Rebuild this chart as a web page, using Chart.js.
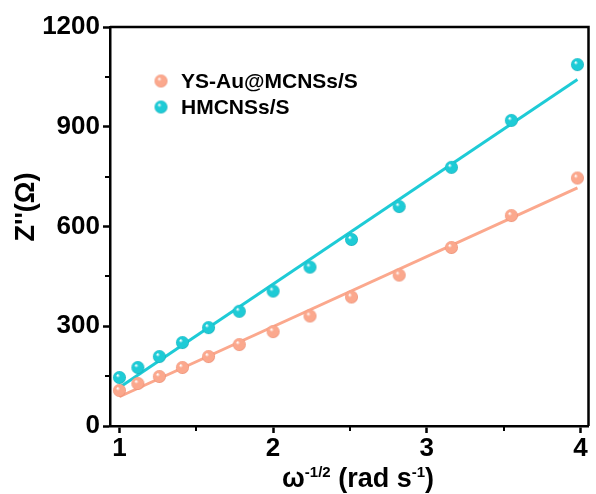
<!DOCTYPE html>
<html>
<head>
<meta charset="utf-8">
<script src="https://cdn.jsdelivr.net/npm/chart.js@4/dist/chart.umd.min.js"></script>
<style>
  html, body { margin: 0; padding: 0; background: #fff; }
  #wrap { width: 596px; height: 494px; }
</style>
</head>
<body>
<div id="wrap"><canvas id="c" width="596" height="494"></canvas></div>
<script>
// ---- data ----
const xValues = [1, 1.12, 1.26, 1.41, 1.58, 1.78, 2, 2.24, 2.51, 2.82, 3.16, 3.55, 3.98];
const ysAuValues = [107, 128, 149, 176, 209, 245, 284, 331, 388, 454, 537, 633, 746];
const hmcnsValues = [146, 176, 209, 251, 296, 345, 406, 478, 561, 660, 778, 919, 1087];
const fitX = [1, 3.98];
const ysAuFit = [88, 716];
const hmcnsFit = [116, 1042];
const seriesNames = ['YS-Au@MCNSs/S', 'HMCNSs/S'];
const xTicks = [1, 2, 3, 4];
const xMinorTicks = [1.5, 2.5, 3.5];
const yTicks = [0, 300, 600, 900, 1200];
const yMinorTicks = [150, 450, 750, 1050];

const salmon = '#fba88d';
const cyan = '#1ecbd6';
const FONT = '"Liberation Sans", Arial, sans-serif';

function sphere(color, dark, r) {
  const s = 2 * r + 2;
  const c = document.createElement('canvas');
  c.width = s; c.height = s;
  const g = c.getContext('2d');
  const cx = s / 2, cy = s / 2;
  const grad = g.createRadialGradient(cx - r * 0.3, cy - r * 0.35, r * 0.05, cx, cy, r);
  grad.addColorStop(0, '#ffffff');
  grad.addColorStop(0.28, color);
  grad.addColorStop(0.85, color);
  grad.addColorStop(1, dark);
  g.fillStyle = grad;
  g.beginPath(); g.arc(cx, cy, r, 0, Math.PI * 2); g.fill();
  return c;
}
const salmonBall = sphere(salmon, '#e9876c', 6.5);
const cyanBall = sphere(cyan, '#12aab5', 6.5);

const pts = (xs, ys) => xs.map((x, i) => ({ x: x, y: ys[i] }));

const decor = {
  id: 'decor',
  afterDraw(chart) {
    const ctx = chart.ctx;
    const a = chart.chartArea;
    const xs = chart.scales.x, ys = chart.scales.y;
    ctx.save();
    ctx.strokeStyle = '#000';
    ctx.lineWidth = 2.5;
    // frame top & right
    ctx.beginPath();
    ctx.moveTo(a.left, a.top); ctx.lineTo(a.right, a.top); ctx.lineTo(a.right, a.bottom);
    ctx.stroke();
    // minor ticks
    ctx.lineWidth = 2;
    yMinorTicks.forEach(v => {
      const p = Math.round(ys.getPixelForValue(v));
      ctx.beginPath(); ctx.moveTo(a.left - 5, p); ctx.lineTo(a.left, p); ctx.stroke();
    });
    xMinorTicks.forEach(v => {
      const p = Math.round(xs.getPixelForValue(v));
      ctx.beginPath(); ctx.moveTo(p, a.bottom); ctx.lineTo(p, a.bottom + 5); ctx.stroke();
    });
    // legend
    ctx.fillStyle = '#000';
    ctx.font = 'bold 21px ' + FONT;
    ctx.textBaseline = 'middle';
    ctx.textAlign = 'left';
    const balls = [salmonBall, cyanBall];
    const ly = [81, 107];
    seriesNames.forEach((n, i) => {
      const b = balls[i];
      ctx.drawImage(b, 161 - b.width / 2, ly[i] - b.height / 2);
      ctx.fillText(n, 181, ly[i] + 1);
    });
    // y title (rotated)
    ctx.save();
    ctx.translate(27, 207);
    ctx.rotate(-Math.PI / 2);
    ctx.textAlign = 'center';
    ctx.textBaseline = 'middle';
    ctx.font = 'bold 27px ' + FONT;
    ctx.fillText("Z''(\u03A9)", 0, 0);
    ctx.restore();
    // x title with superscripts
    const parts = [
      ['\u03C9', 27, 0], ['-1/2', 15, -10], [' (rad s', 27, 0], ['-1', 15, -10], [')', 27, 0]
    ];
    let w = 0;
    parts.forEach(p => { ctx.font = 'bold ' + p[1] + 'px ' + FONT; w += ctx.measureText(p[0]).width; });
    let x = 358 - w / 2;
    const base = 487;
    ctx.textBaseline = 'alphabetic';
    parts.forEach(p => {
      ctx.font = 'bold ' + p[1] + 'px ' + FONT;
      ctx.fillText(p[0], x, base + p[2]);
      x += ctx.measureText(p[0]).width;
    });
    ctx.restore();
  }
};

new Chart(document.getElementById('c'), {
  type: 'scatter',
  data: {
    datasets: [
      { label: seriesNames[0], data: pts(xValues, ysAuValues), pointStyle: salmonBall, pointRadius: 6.5, backgroundColor: salmon, borderColor: salmon },
      { label: seriesNames[1], data: pts(xValues, hmcnsValues), pointStyle: cyanBall, pointRadius: 6.5, backgroundColor: cyan, borderColor: cyan },
      { type: 'line', label: 'fit1', data: pts(fitX, ysAuFit), borderColor: salmon, borderWidth: 3, pointRadius: 0, fill: false },
      { type: 'line', label: 'fit2', data: pts(fitX, hmcnsFit), borderColor: cyan, borderWidth: 3, pointRadius: 0, fill: false }
    ]
  },
  options: {
    responsive: false,
    animation: false,
    events: [],
    layout: { padding: { top: 27, right: 3, left: 0, bottom: 0 } },
    plugins: { legend: { display: false }, tooltip: { enabled: false } },
    scales: {
      x: {
        type: 'linear',
        min: 0.939, max: 4.052,
        afterBuildTicks: s => { s.ticks = xTicks.map(v => ({ value: v })); },
        afterFit: s => { s.height = 68; },
        border: { display: true, color: '#000', width: 2.5 },
        grid: { display: true, drawOnChartArea: false, drawTicks: true, tickLength: 7, tickColor: '#000', tickWidth: 2.5 },
        ticks: { color: '#000', font: { family: FONT, size: 26, weight: 'bold' }, padding: 0, maxRotation: 0, callback: v => String(v) }
      },
      y: {
        type: 'linear',
        min: 0, max: 1200,
        afterBuildTicks: s => { s.ticks = yTicks.map(v => ({ value: v })); },
        afterFit: s => { s.width = 110; },
        border: { display: true, color: '#000', width: 2.5 },
        grid: { display: true, drawOnChartArea: false, drawTicks: true, tickLength: 7, tickColor: '#000', tickWidth: 2.5 },
        ticks: { color: '#000', font: { family: FONT, size: 26, weight: 'bold' }, padding: 3, callback: v => String(v) }
      }
    }
  },
  plugins: [decor]
});
</script>
</body>
</html>
